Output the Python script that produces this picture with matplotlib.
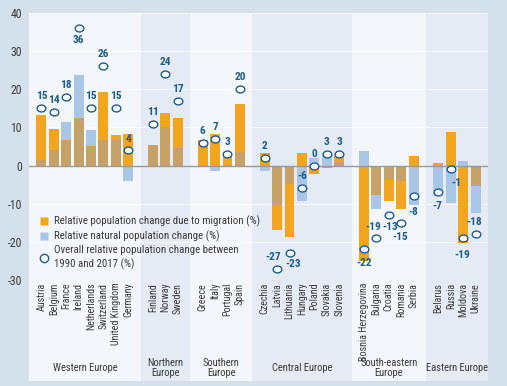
import matplotlib
matplotlib.use('Agg')
import matplotlib.pyplot as plt
import numpy as np
from matplotlib import font_manager
from matplotlib.path import Path
from matplotlib.lines import Line2D
from matplotlib.patches import Rectangle

# ---------------- data ----------------
countries = ['Austria', 'Belgium', 'France', 'Ireland', 'Netherlands', 'Switzerland',
             'United Kingdom', 'Germany',
             'Finland', 'Norway', 'Sweden',
             'Greece', 'Italy', 'Portugal', 'Spain',
             'Czechia', 'Latvia', 'Lithuania', 'Hungary', 'Poland', 'Slovakia', 'Slovenia',
             'Bosnia Herzegovina', 'Bulgaria', 'Croatia', 'Romania', 'Serbia',
             'Belarus', 'Russia', 'Moldova', 'Ukraine']
groups = ['Western Europe', 'Northern\nEurope', 'Southern\nEurope', 'Central Europe',
          'South-eastern\nEurope', 'Eastern Europe']
group_sizes = [8, 3, 4, 7, 5, 4]

migration = [13.2, 9.7, 6.7, 12.5, 5.1, 19.2, 7.9, 8.4,
             5.3, 13.8, 12.6,
             6.8, 8.2, 2.8, 16.1,
             3.2, -16.9, -18.7, 3.3, -2.2, -0.7, 2.4,
             -25.0, -7.6, -9.2, -11.4, 2.4,
             0.6, 8.9, -20.4, -5.3]
natural = [1.4, 4.2, 11.4, 23.8, 9.3, 6.8, 6.8, -4.0,
           5.4, 10.2, 4.5,
           -0.3, -1.4, 0.2, 3.5,
           -1.3, -10.3, -4.8, -9.2, 2.1, 3.3, 1.0,
           3.7, -11.5, -3.9, -4.1, -10.3,
           -7.9, -9.9, 1.3, -12.5]
overall = [15, 14, 18, 36, 15, 26, 15, 4,
           11, 24, 17,
           6, 7, 3, 20,
           2, -27, -23, -6, 0, 3, 3,
           -22, -19, -13, -15, -8,
           -7, -1, -19, -18]
yticks = [40, 30, 20, 10, 0, -10, -20, -30]

# label placement (pixel offsets of the number relative to its circle)
label_offsets = [(0, 12), (0, 12), (0, 12), (0, -12), (0, 12), (0, 12), (0, 12), (0, 11),
                 (0, 12), (0, 12), (0, 12),
                 (0, 12), (0, 12), (0, 12), (0, 12),
                 (0, 12), (-4, 12), (4, -11), (0, 12), (0, 12), (0, 12), (0, 12),
                 (0, -14), (-3, 11), (1, -12), (-1, -14), (0, -16),
                 (-1, -14), (6, -14), (-1, -17), (-1, 12)]

# ---------------- style ----------------
C_ORANGE = '#F2A51E'
C_BLUE = '#AAC6E6'
C_BROWN = '#C6A268'
C_CIRCLE = '#1D5C8C'
C_TEXT = '#3A3A3A'
C_FIG = '#D5E0ED'
C_LIGHT = '#F3F6FA'
C_DARK = '#E4EBF4'

available = {f.name for f in font_manager.fontManager.ttflist}
fams = [f for f in ['Roboto Condensed', 'PT Sans Narrow', 'Fira Sans Condensed',
                    'Archivo Narrow', 'Liberation Sans Narrow'] if f in available]
plt.rcParams['font.family'] = fams[:1] + ['DejaVu Sans']

W, H = 507, 386
fig = plt.figure(figsize=(W / 100, H / 100), dpi=100, facecolor=C_FIG)
ax = fig.add_axes([29 / W, 1 - 280 / H, (488 - 29) / W, (280 - 13) / H])
ax.patch.set_visible(False)
for s in ax.spines.values():
    s.set_visible(False)

# positions
pos = []
bounds = [0]
start = 0
for n in group_sizes:
    pos.extend([start + 1 + i for i in range(n)])
    start += n + 1
    bounds.append(start)
pos = np.array(pos, dtype=float)

ax.set_xlim(0, bounds[-1])
ax.set_ylim(-30, 40)

# panels (extend below the axis into the label area)
xt = ax.get_xaxis_transform()
for k in range(len(group_sizes)):
    col = C_LIGHT if k % 2 == 0 else C_DARK
    ax.add_patch(Rectangle((bounds[k], -0.38), bounds[k + 1] - bounds[k], 1.38,
                           transform=xt, facecolor=col, edgecolor='none',
                           clip_on=False, zorder=0))
    center = (bounds[k] + bounds[k + 1]) / 2
    ax.text(center, -0.33, groups[k], transform=xt, ha='center', va='center',
            fontsize=7.6, color=C_TEXT, linespacing=1.0)

# faint grid
for yv in yticks:
    ax.axhline(yv, color='white', lw=0.7, alpha=0.7, zorder=0.5)

# bars
mig = np.array(migration)
nat = np.array(natural)
same = np.sign(mig) == np.sign(nat)
ovl = np.where(same, np.sign(mig) * np.minimum(np.abs(mig), np.abs(nat)), 0)
bw = 0.8
ax.bar(pos, nat, width=bw, color=C_BLUE, zorder=2)
ax.bar(pos, mig, width=bw, color=C_ORANGE, zorder=3)
ax.bar(pos, ovl, width=bw, color=C_BROWN, zorder=4)

ax.axhline(0, color='#9A9A9A', lw=1.0, zorder=5)

# circles
th = np.linspace(0, 2 * np.pi, 60)
ell = Path(np.column_stack([np.cos(th), 0.8 * np.sin(th)]), closed=True)
ax.plot(pos, overall, linestyle='none', marker=ell, ms=6.2, mfc='white',
        mec=C_CIRCLE, mew=1.0, zorder=6)
for x, v, (dx, dy) in zip(pos, overall, label_offsets):
    ax.annotate(f'{v}', (x, v), xytext=(dx * 0.72, dy * 0.72), textcoords='offset points',
                ha='center', va='center', fontsize=8.2, fontweight='bold',
                color=C_CIRCLE, zorder=7)

# axes ticks
ax.set_yticks(yticks)
ax.set_yticklabels([str(t) for t in yticks], fontsize=8.5, color=C_TEXT)
ax.set_xticks(pos)
ax.set_xticklabels(countries, rotation=90, fontsize=7.2, color=C_TEXT, va='top')
ax.tick_params(axis='both', length=0)
ax.tick_params(axis='y', pad=5)
ax.tick_params(axis='x', pad=2)

# legend
handles = [Line2D([], [], linestyle='none', marker='s', ms=6, mfc=C_ORANGE, mec='none'),
           Line2D([], [], linestyle='none', marker='s', ms=6, mfc=C_BLUE, mec='none'),
           Line2D([], [], linestyle='none', marker='o', ms=6, mfc='white', mec=C_CIRCLE, mew=1.0)]
labels = ['Relative population change due to migration (%)',
          'Relative natural population change (%)',
          'Overall relative population change between\n1990 and 2017 (%)']
leg = ax.legend(handles, labels, loc='upper left', bbox_to_anchor=(0.024, 0.24),
                frameon=False, fontsize=7.8, handlelength=0.8, handletextpad=0.5,
                labelspacing=0.3, borderaxespad=0, borderpad=0)
for t in leg.get_texts():
    t.set_color(C_TEXT)
    t.set_linespacing(1.35)

fig.savefig('out.png', dpi=100, facecolor=C_FIG)
